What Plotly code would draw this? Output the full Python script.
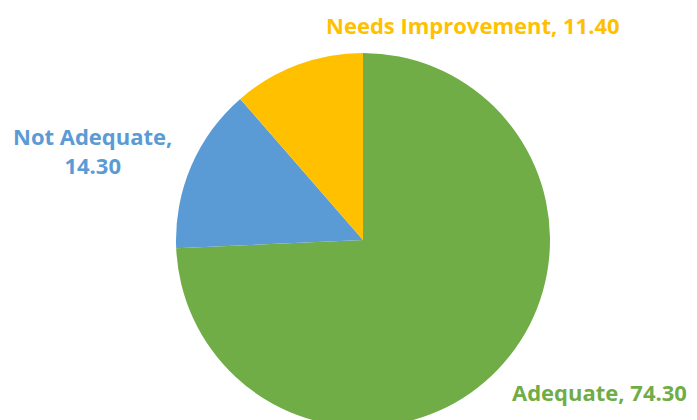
import plotly.graph_objects as go

categories = ["Adequate", "Not Adequate", "Needs Improvement"]
values = [74.30, 14.30, 11.40]
colors = ["#70AD47", "#5B9BD5", "#FFC000"]
label_text = ["Adequate, 74.30", "Not Adequate,<br>14.30", "Needs Improvement, 11.40"]

W, H = 697, 440
OFF = 8  # page body margin
cx, cy, r = 363 - OFF, 240 - OFF, 187  # pixel layout of pie

fig = go.Figure(go.Pie(
    labels=categories, values=values, sort=False, direction="clockwise",
    rotation=0,
    marker=dict(colors=colors, line=dict(color="white", width=0)),
    textinfo="none", hoverinfo="label+value", showlegend=False,
    domain=dict(x=[(cx - r) / W, (cx + r) / W], y=[(H - (cy + r)) / H, (H - (cy - r)) / H]),
))

# (x px, xanchor, y px, yanchor)
label_pos = [(689 - OFF, "right", 392 - OFF, "middle"),
             (92 - OFF, "center", 150 - OFF, "middle"),
             (473 - OFF, "center", 0, "top")]
for txt, col, (px, xa, py, ya) in zip(label_text, colors, label_pos):
    fig.add_annotation(x=px / W, y=1 - py / H, xref="paper", yref="paper",
                       text=txt, showarrow=False, xanchor=xa, yanchor=ya,
                       font=dict(family="Open Sans", size=22, color=col, weight="bold"),
                       align="center")

fig.update_layout(width=W, height=H, margin=dict(l=0, r=0, t=0, b=0),
                  paper_bgcolor="white", plot_bgcolor="white")
fig.write_html("out.html")
